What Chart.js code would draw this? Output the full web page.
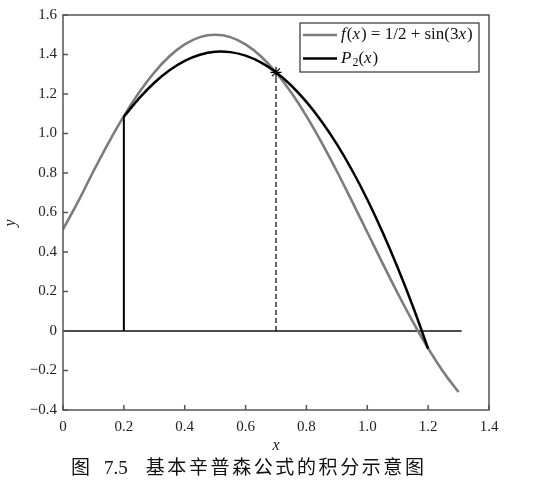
<!DOCTYPE html>
<html>
  <head>
    <script src="https://cdn.jsdelivr.net/npm/chart.js@4.4.0/dist/chart.umd.min.js"></script>
    <style>
      body {
        margin: 0;
        background-color: white;
      }
      #wrap {
        position: relative;
        width: 540px;
        height: 491px;
      }
      #caption {
        position: absolute;
        left: 71px;
        top: 452px;
        font-family: "Noto Sans CJK SC", sans-serif;
        font-size: 19px;
        color: #111;
        white-space: nowrap;
      }
      #caption .num {
        font-family: "Liberation Serif", serif;
        font-size: 19px;
        margin-left: 14px;
        margin-right: 18px;
      }
      #caption .txt {
        letter-spacing: 2.6px;
      }
    </style>
  </head>
  <body>
    <div id="wrap">
      <canvas id="myChart" width="540" height="491"></canvas>
      <div id="caption">图<span class="num">7.5</span><span class="txt">基本辛普森公式的积分示意图</span></div>
    </div>
  <script>
    // f(x) curve
    const fX = [0, 0.05, 0.1, 0.15, 0.2, 0.25, 0.3, 0.35, 0.4, 0.45, 0.5, 0.55, 0.6, 0.65,
                0.7, 0.75, 0.8, 0.85, 0.9, 0.95, 1.0, 1.05, 1.1, 1.15, 1.2, 1.25, 1.3];
    const fY = [0.515, 0.656, 0.809, 0.954, 1.088, 1.207, 1.309, 1.391, 1.451, 1.488, 1.500, 1.488, 1.451, 1.391,
                1.309, 1.207, 1.088, 0.954, 0.809, 0.656, 0.500, 0.344, 0.191, 0.046, -0.088, -0.207, -0.309];

    // P2(x) curve
    const pX = [0.2, 0.25, 0.3, 0.35, 0.4, 0.45, 0.5, 0.55, 0.6, 0.65, 0.7,
                0.75, 0.8, 0.85, 0.9, 0.95, 1.0, 1.05, 1.1, 1.15, 1.2];
    const pY = [1.085, 1.178, 1.257, 1.320, 1.368, 1.399, 1.414, 1.412, 1.394, 1.360, 1.310,
                1.243, 1.160, 1.061, 0.946, 0.814, 0.666, 0.501, 0.320, 0.124, -0.090];

    // nodes (a, midpoint, b) and the x-axis segment
    const nodeX = [0.2, 0.7, 1.2];
    const nodeY = [1.085, 1.31, -0.09];
    const baseX = [0, 1.31];

    // tick values
    const xTicks = [0, 0.2, 0.4, 0.6, 0.8, 1.0, 1.2, 1.4];
    const yTicks = [-0.4, -0.2, 0, 0.2, 0.4, 0.6, 0.8, 1.0, 1.2, 1.4, 1.6];

    const grayCol = '#7c7c7c';
    const axisCol = '#555555';
    const serif = '"Liberation Serif", "DejaVu Serif", serif';

    function toPts(xs, ys) {
      return xs.map(function (x, i) { return {x: x, y: ys[i]}; });
    }

    function fmtX(v) {
      if (Math.abs(v) < 1e-9) return '0';
      return v.toFixed(1);
    }
    function fmtY(v) {
      if (Math.abs(v) < 1e-9) return '0';
      let s = Math.abs(v).toFixed(1);
      return (v < 0 ? '\u2212' : '') + s;
    }

    // draws the axes box, inward ticks and the legend
    const boxPlugin = {
      id: 'boxPlugin',
      afterDraw: function (chart) {
        const ctx = chart.ctx;
        const a = chart.chartArea;
        const xs = chart.scales.x, ys = chart.scales.y;
        ctx.save();
        ctx.strokeStyle = axisCol;
        ctx.lineWidth = 1.5;
        ctx.strokeRect(a.left, a.top, a.right - a.left, a.bottom - a.top);
        ctx.beginPath();
        xTicks.forEach(function (v) {
          const px = xs.getPixelForValue(v);
          ctx.moveTo(px, a.bottom);
          ctx.lineTo(px, a.bottom - 5);
        });
        yTicks.forEach(function (v) {
          const py = ys.getPixelForValue(v);
          ctx.moveTo(a.left, py);
          ctx.lineTo(a.left + 5, py);
        });
        ctx.stroke();

        // y axis title, drawn a little below the middle like the original
        ctx.save();
        ctx.translate(11, 223);
        ctx.rotate(-Math.PI / 2);
        ctx.font = 'italic 16px ' + serif;
        ctx.fillStyle = '#222';
        ctx.textAlign = 'center';
        ctx.textBaseline = 'middle';
        ctx.fillText('y', 0, 0);
        ctx.restore();

        // legend
        const lx = 300, ly = 23, lw = 179, lh = 49;
        ctx.fillStyle = 'white';
        ctx.fillRect(lx, ly, lw, lh);
        ctx.strokeStyle = '#333';
        ctx.lineWidth = 1.2;
        ctx.strokeRect(lx, ly, lw, lh);

        const rows = [
          {col: grayCol, y: 35, parts: [['f', 'italic'], ['(', ''], ['x', 'italic'], [') = 1/2 + sin(3', ''], ['x', 'italic'], [')', '']]},
          {col: '#000', y: 58.5, parts: [['P', 'italic'], ['2', 'sub'], ['(', ''], ['x', 'italic'], [')', '']]}
        ];
        ctx.textBaseline = 'middle';
        ctx.fillStyle = '#111';
        rows.forEach(function (r) {
          ctx.strokeStyle = r.col;
          ctx.lineWidth = 2.5;
          ctx.beginPath();
          ctx.moveTo(303, r.y);
          ctx.lineTo(337, r.y);
          ctx.stroke();
          let tx = 341;
          r.parts.forEach(function (p) {
            let size = 17, dy = 0, style = '';
            if (p[1] === 'italic') style = 'italic ';
            if (p[1] === 'sub') { size = 12; dy = 4; }
            ctx.font = style + size + 'px ' + serif;
            ctx.fillText(p[0], tx, r.y + dy);
            tx += ctx.measureText(p[0]).width + (p[1] === 'italic' ? 1 : 0);
          });
        });
        ctx.restore();
      }
    };

    const ctx = document.getElementById('myChart').getContext('2d');
    const myChart = new Chart(ctx, {
      type: 'line',
      data: {
        datasets: [
          {
            label: 'f(x) = 1/2 + sin(3x)',
            data: toPts(fX, fY),
            borderColor: grayCol,
            borderWidth: 2.6,
            pointRadius: 0,
            tension: 0.4,
            order: 3
          },
          {
            label: 'P2(x)',
            data: toPts(pX, pY),
            borderColor: '#000',
            borderWidth: 2.5,
            pointRadius: 0,
            tension: 0.4,
            order: 1
          },
          {
            label: 'a',
            data: [{x: nodeX[0], y: 0}, {x: nodeX[0], y: nodeY[0]}],
            borderColor: '#000',
            borderWidth: 2,
            pointRadius: 0,
            order: 2
          },
          {
            label: 'mid',
            data: [{x: nodeX[1], y: 0}, {x: nodeX[1], y: nodeY[1]}],
            borderColor: '#000',
            borderWidth: 1.2,
            borderDash: [5, 3],
            pointRadius: 0,
            order: 2
          },
          {
            label: 'base',
            data: [{x: baseX[0], y: 0}, {x: baseX[1], y: 0}],
            borderColor: '#111',
            borderWidth: 1.3,
            pointRadius: 0,
            order: 4
          },
          {
            label: 'star',
            data: [{x: nodeX[1], y: nodeY[1]}],
            showLine: false,
            pointStyle: 'star',
            pointRadius: 5.5,
            borderColor: '#000',
            borderWidth: 1.2,
            order: 0
          }
        ]
      },
      options: {
        responsive: false,
        animation: false,
        devicePixelRatio: 1,
        layout: {padding: {left: 2, top: 15, right: 51, bottom: 36}},
        plugins: {
          legend: {display: false},
          tooltip: {enabled: false}
        },
        scales: {
          x: {
            type: 'linear',
            min: 0,
            max: 1.4,
            grid: {display: false, drawTicks: false},
            border: {display: false},
            afterBuildTicks: function (s) { s.ticks = xTicks.map(function (v) { return {value: v}; }); },
            afterFit: function (s) { s.height = 45; },
            ticks: {
              padding: 8,
              maxRotation: 0,
              color: '#222',
              font: {family: serif, size: 15},
              callback: function (v) { return fmtX(v); }
            },
            title: {
              display: true,
              text: 'x',
              color: '#222',
              padding: 0,
              font: {family: serif, size: 16, style: 'italic'}
            }
          },
          y: {
            type: 'linear',
            min: -0.4,
            max: 1.6,
            grid: {display: false, drawTicks: false},
            border: {display: false},
            afterBuildTicks: function (s) { s.ticks = yTicks.map(function (v) { return {value: v}; }); },
            afterFit: function (s) { s.width = 61; },
            ticks: {
              padding: 6,
              color: '#222',
              font: {family: serif, size: 15},
              callback: function (v) { return fmtY(v); }
            },
            title: {
              display: false,
              text: 'y'
            }
          }
        }
      },
      plugins: [boxPlugin]
    });
  </script>
  </body>
</html>
